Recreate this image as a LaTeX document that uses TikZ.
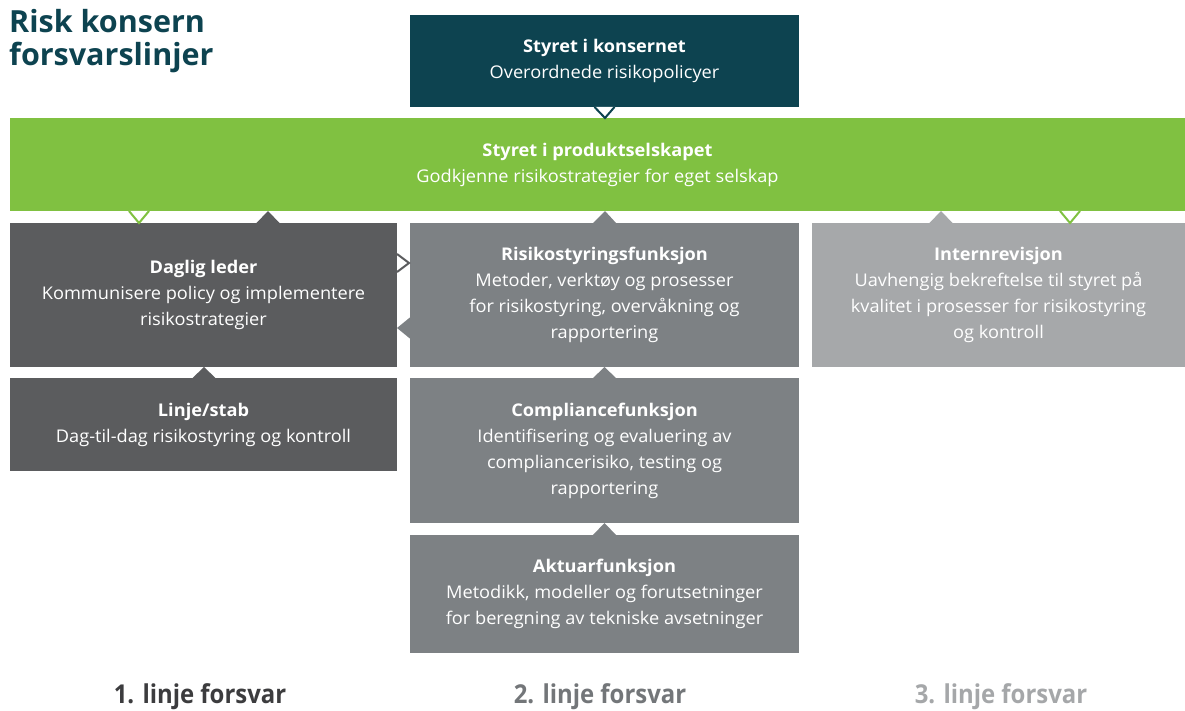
\documentclass[tikz,border=0pt]{standalone}
\usepackage{fontspec}
\usetikzlibrary{calc}
\newfontfamily\boxf[FakeStretch=1.04]{Open Sans}
\newfontfamily\titlef{Open Sans}
\newfontfamily\footf[FakeStretch=0.92]{Open Sans}
\definecolor{teal}{RGB}{13,67,80}
\definecolor{grn}{RGB}{128,193,65}
\definecolor{dgray}{RGB}{91,92,94}
\definecolor{mgray}{RGB}{125,129,132}
\definecolor{lgray}{RGB}{166,168,170}
\definecolor{f1}{RGB}{60,60,62}
\definecolor{f2}{RGB}{115,118,121}
\definecolor{f3}{RGB}{165,167,169}
\tikzset{
  box/.style={anchor=north west, inner sep=0pt, outer sep=0pt, align=center, text=white,
    font=\boxf\fontsize{17.5}{26}\selectfont},
  opentri/.style={fill=white, line width=2pt, line join=miter},
  foot/.style={anchor=base, font=\footf\bfseries\fontsize{26}{30}\selectfont}
}
\begin{document}
\begin{tikzpicture}[x=1pt,y=-1pt]
\useasboundingbox (0,0) rectangle (1185,711);
% title
\node[anchor=north west, inner sep=0pt, align=left, text=teal,
  font=\titlef\bfseries\fontsize{30.5}{33}\selectfont] (title) at (9,9)
  {Risk konsern\\forsvarslinjer};
% boxes
\node[box, fill=teal, minimum width=389pt, minimum height=92pt] (top) at (410,15)
  {\textbf{Styret i konsernet}\\Overordnede risikopolicyer};
\node[box, fill=grn, minimum width=1175pt, minimum height=93pt] (green) at (10,118)
  {\textbf{Styret i produktselskapet}\\Godkjenne risikostrategier for eget selskap};
\node[box, fill=dgray, minimum width=387pt, minimum height=144pt] (daglig) at (10,223)
  {\textbf{Daglig leder}\\Kommunisere policy og implementere\\risikostrategier};
\node[box, fill=mgray, minimum width=389pt, minimum height=144pt] (risk) at (410,223)
  {\textbf{Risikostyringsfunksjon}\\Metoder, verktøy og prosesser\\for risikostyring, overvåkning og\\rapportering};
\node[box, fill=lgray, minimum width=373pt, minimum height=144pt] (intern) at (812,223)
  {\textbf{Internrevisjon}\\Uavhengig bekreftelse til styret på\\kvalitet i prosesser for risikostyring\\og kontroll};
\node[box, fill=dgray, minimum width=387pt, minimum height=93pt] (linje) at (10,378)
  {\textbf{Linje/stab}\\Dag-til-dag risikostyring og kontroll};
\node[box, fill=mgray, minimum width=389pt, minimum height=145pt] (compl) at (410,378)
  {\textbf{Compliancefunksjon}\\Identifisering og evaluering av\\compliancerisiko, testing og\\rapportering};
\node[box, fill=mgray, minimum width=389pt, minimum height=118pt] (aktuar) at (410,535)
  {\textbf{Aktuarfunksjon}\\Metodikk, modeller og forutsetninger\\for beregning av tekniske avsetninger};
% connectors (triangles)
\draw[opentri, draw=teal] ($(top.south)+(-10,0)$) -- ($(green.north west)+(595,0)$) -- ($(top.south)+(10,0)$);
\draw[opentri, draw=grn] ($(green.south west)+(119,0)$) -- ($(daglig.north west)+(129,0)$) -- ($(green.south west)+(139,0)$);
\draw[opentri, draw=grn] ($(green.south west)+(1050,0)$) -- ($(intern.north west)+(258,0)$) -- ($(green.south west)+(1070,0)$);
\fill[dgray] ($(daglig.north west)+(246,0.5)$) -- ($(green.south west)+(258,0)$) -- ($(daglig.north west)+(270,0.5)$) -- cycle;
\fill[mgray] ($(risk.north)+(-12,0.5)$) -- ($(green.south west)+(595,0)$) -- ($(risk.north)+(12,0.5)$) -- cycle;
\fill[lgray] ($(intern.north west)+(117,0.5)$) -- ($(green.south west)+(931,0)$) -- ($(intern.north west)+(141,0.5)$) -- cycle;
\draw[opentri, draw=dgray] ($(daglig.north east)+(0,31)$) -- ($(risk.north west)+(-1,40)$) -- ($(daglig.north east)+(0,49)$);
\fill[mgray] ($(risk.north west)+(0.5,94)$) -- ($(daglig.north east)+(0,105)$) -- ($(risk.north west)+(0.5,116)$) -- cycle;
\fill[dgray] ($(linje.north west)+(182,0.5)$) -- ($(daglig.south west)+(194,0)$) -- ($(linje.north west)+(206,0.5)$) -- cycle;
\fill[mgray] ($(compl.north)+(-12,0.5)$) -- ($(risk.south)+(0,0)$) -- ($(compl.north)+(12,0.5)$) -- cycle;
\fill[mgray] ($(aktuar.north)+(-12,0.5)$) -- ($(compl.south)+(0,0)$) -- ($(aktuar.north)+(12,0.5)$) -- cycle;
% footer
\node[foot, text=f1] (l1) at (200,703) {1. linje forsvar};
\node[foot, text=f2] (l2) at (600,703) {2. linje forsvar};
\node[foot, text=f3] (l3) at (1001,703) {3. linje forsvar};
\end{tikzpicture}
\end{document}
